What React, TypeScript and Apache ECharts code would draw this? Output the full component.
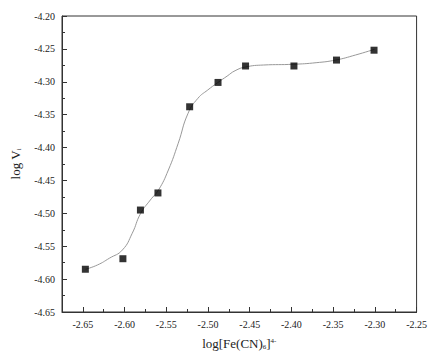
import React, { useEffect, useRef } from "react";
import * as echarts from "echarts";

// Measured points: log[Fe(CN)6]4- vs log Vi
const pointX = [-2.647, -2.602, -2.581, -2.560, -2.522, -2.488, -2.455, -2.397, -2.346, -2.301];
const pointY = [-4.585, -4.569, -4.495, -4.469, -4.338, -4.301, -4.276, -4.276, -4.267, -4.252];

// Fitted curve
const curveX = [-2.6467, -2.6325, -2.6183, -2.6026, -2.5908, -2.5809, -2.5691, -2.5593, -2.5475, -2.5357, -2.5239, -2.5121, -2.5003, -2.4885, -2.4771, -2.4676, -2.455, -2.4333, -2.3979, -2.3704, -2.3468, -2.3232, -2.3004];
const curveY = [-4.585, -4.5785, -4.5683, -4.5557, -4.5303, -4.5005, -4.4797, -4.4645, -4.4341, -4.3935, -4.3479, -4.3251, -4.3125, -4.3014, -4.2914, -4.2832, -4.2775, -4.2745, -4.2734, -4.271, -4.2669, -4.2593, -4.2506];

const xMajor = [-2.65, -2.6, -2.55, -2.5, -2.45, -2.4, -2.35, -2.3, -2.25];
const xMinor = [-2.625, -2.575, -2.525, -2.475, -2.425, -2.375, -2.325, -2.275];

const FONT = '"Liberation Serif", "Times New Roman", serif';

export default function App() {
  const ref = useRef<HTMLDivElement>(null);
  useEffect(() => {
    if (!ref.current) return;
    const chart = echarts.init(ref.current, null, { renderer: "svg" });
    const axisColor = "#333";
    chart.setOption({
      animation: false,
      backgroundColor: "#fff",
      grid: {
        left: 62,
        right: 8,
        top: 16,
        bottom: 44,
        show: true,
        borderColor: axisColor,
        borderWidth: 1,
      },
      xAxis: [
        {
          type: "value",
          min: -2.675,
          max: -2.25,
          name: "log[Fe(CN){sub|6}]{sup|4-}",
          nameLocation: "middle",
          nameGap: 25,
          nameTextStyle: {
            fontFamily: FONT,
            fontSize: 13,
            color: "#222",
            rich: {
              sub: { fontSize: 7, fontFamily: FONT, color: "#222", verticalAlign: "bottom", padding: [6, 0, 0, 0] },
              sup: { fontSize: 7, fontFamily: FONT, color: "#222", verticalAlign: "top", padding: [0, 0, 6, 0] },
            },
          },
          axisLine: { show: true, onZero: false, lineStyle: { color: axisColor, width: 1 } },
          axisTick: { show: true, inside: true, length: 5, customValues: xMajor, lineStyle: { color: axisColor } },
          axisLabel: {
            customValues: xMajor,
            formatter: (v: number) => v.toFixed(2),
            fontFamily: FONT,
            fontSize: 10,
            color: "#222",
            margin: 7,
          },
          splitLine: { show: false },
        },
        {
          type: "value",
          min: -2.675,
          max: -2.25,
          position: "bottom",
          axisLine: { show: false, onZero: false },
          axisTick: { show: true, inside: true, length: 3, customValues: xMinor, lineStyle: { color: axisColor } },
          axisLabel: { show: false },
          splitLine: { show: false },
        },
      ],
      yAxis: {
        type: "value",
        min: -4.65,
        max: -4.2,
        interval: 0.05,
        name: "{a|log V}{sub|i}",
        nameLocation: "middle",
        nameRotate: 90,
        nameGap: 40,
        nameTextStyle: {
          fontFamily: FONT,
          fontSize: 13,
          color: "#222",
          rich: {
            a: { fontSize: 13, fontFamily: FONT, color: "#222" },
            sub: { fontSize: 7, fontFamily: FONT, color: "#222", verticalAlign: "bottom", padding: [6, 0, 0, 0] },
          },
        },
        axisLine: { show: true, onZero: false, lineStyle: { color: axisColor, width: 1 } },
        axisTick: { show: true, inside: true, length: 5, lineStyle: { color: axisColor } },
        minorTick: { show: true, splitNumber: 2, length: 3, lineStyle: { color: axisColor } },
        axisLabel: {
          formatter: (v: number) => v.toFixed(2),
          fontFamily: FONT,
          fontSize: 10,
          color: "#222",
          margin: 7,
        },
        splitLine: { show: false },
      },
      series: [
        {
          type: "line",
          data: curveX.map((x, i) => [x, curveY[i]]),
          smooth: 0.5,
          showSymbol: false,
          symbol: "none",
          lineStyle: { color: "#999", width: 1 },
          z: 2,
        },
        {
          type: "scatter",
          data: pointX.map((x, i) => [x, pointY[i]]),
          symbol: "rect",
          symbolSize: 7,
          itemStyle: { color: "#000" },
          z: 3,
        },
      ],
    });
    return () => chart.dispose();
  }, []);
  return (
    <div
      ref={ref}
      style={{ position: "fixed", left: 0, top: 0, width: 430, height: 356 }}
    />
  );
}
